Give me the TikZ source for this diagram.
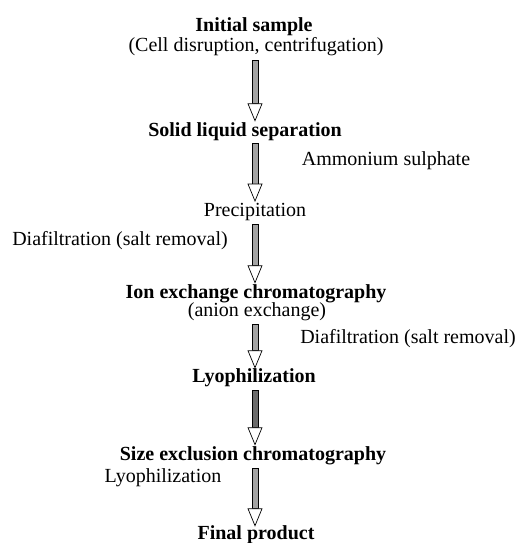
\documentclass[tikz,border=0pt]{standalone}
\usepackage{fontspec}
\setmainfont{Liberation Serif}
\usetikzlibrary{calc}
\definecolor{shaftlight}{gray}{0.64}
\definecolor{shaftdark}{gray}{0.42}
\tikzset{
  lbl/.style={inner sep=0pt, font=\fontsize{20}{21}\selectfont},
  blbl/.style={lbl, font=\fontsize{20}{21}\selectfont\bfseries},
  arrowline/.style={draw=black, line width=0.7pt},
}
\newcommand\flowarrow[5][shaftlight]{% fill, from, to, top gap, tip gap
  \filldraw[arrowline, fill=#1] let \p1=($(#2.south -| axis)+(0,-#4)$), \p2=($(#3.north -| axis)+(0,#5)$) in
    (\x1-3pt,\y1) rectangle (\x1+3pt,\y2+17pt);
  \filldraw[arrowline, fill=white, line join=miter] let \p1=($(#2.south -| axis)+(0,-#4)$), \p2=($(#3.north -| axis)+(0,#5)$) in
    (\x1-7pt,\y2+17pt) -- (\x1+7pt,\y2+17pt) -- (\x1,\y2) -- cycle;
}
\begin{document}
\begin{tikzpicture}[x=1pt,y=1pt]
\useasboundingbox[fill=white] (0,0) rectangle (520,-543);
\coordinate (axis) at (255,0);
\node[blbl] (init) at (254,-27) {Initial sample};
\node[lbl] (cell) at (256,-47) {(Cell disruption, centrifugation)};
\node[blbl] (slsep) at (245,-132) {Solid liquid separation};
\node[lbl] (amsul) at (386,-161) {Ammonium sulphate};
\node[lbl] (precip) at (255,-212) {Precipitation};
\node[lbl] (diaL) at (120,-241) {Diafiltration (salt removal)};
\node[blbl] (iex) at (256,-294) {Ion exchange chromatography};
\node[lbl] (anion) at (257,-312) {(anion exchange)};
\node[lbl] (diaR) at (408,-339) {Diafiltration (salt removal)};
\node[blbl] (lyo1) at (254,-378) {Lyophilization};
\node[blbl] (sec) at (253,-456) {Size exclusion chromatography};
\node[lbl] (lyo2) at (163,-478) {Lyophilization};
\node[blbl] (final) at (256,-535) {Final product};
\flowarrow{cell}{slsep}{4pt}{2pt}
\flowarrow{slsep}{precip}{2pt}{2pt}
\flowarrow{precip}{iex}{3pt}{2pt}
\flowarrow{anion}{lyo1}{3pt}{1pt}
\flowarrow[shaftdark]{lyo1}{sec}{3pt}{2pt}
\flowarrow{sec}{final}{3pt}{0pt}
\end{tikzpicture}
\end{document}
